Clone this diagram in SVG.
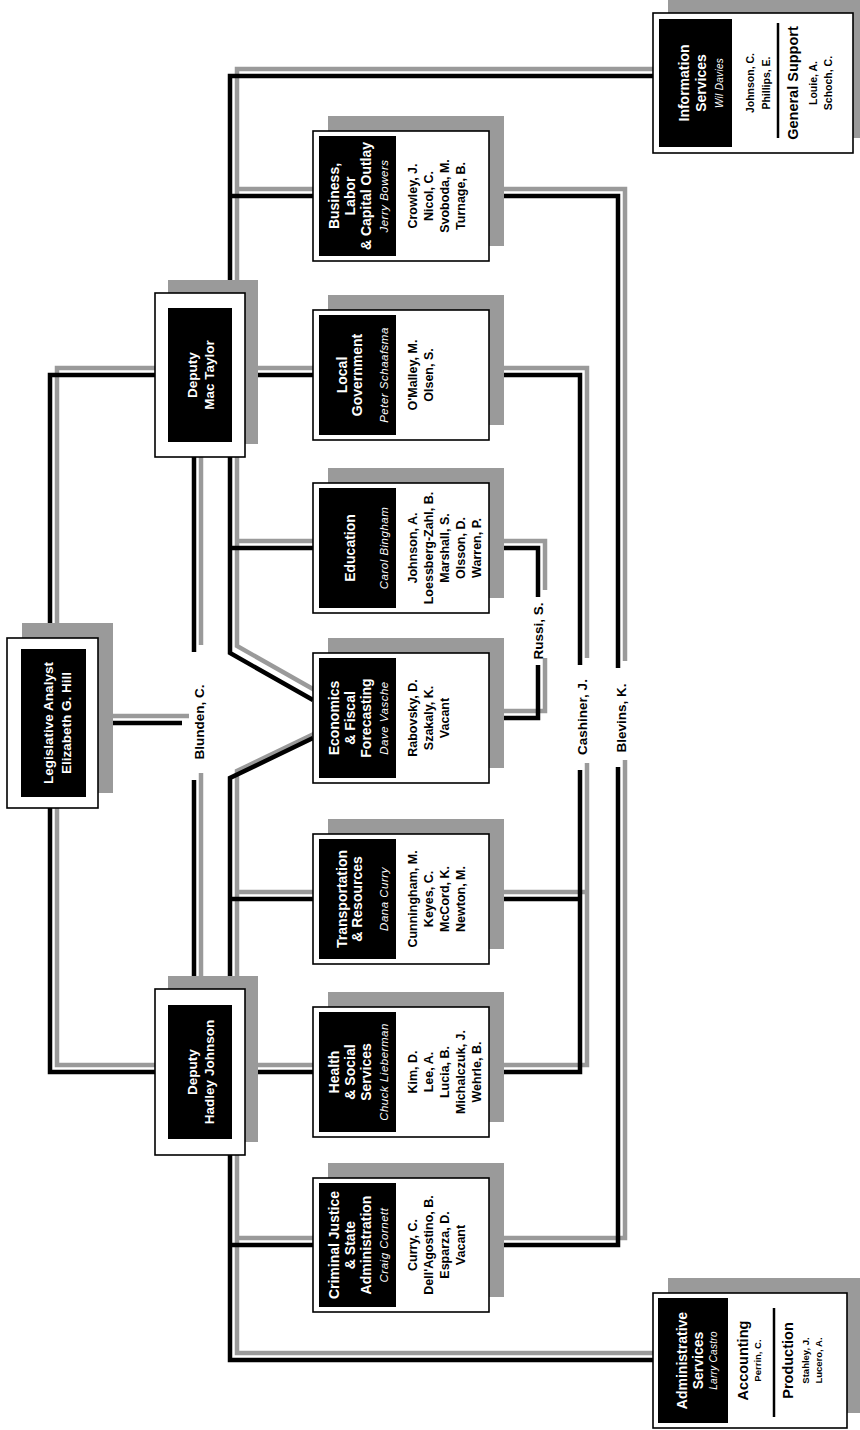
<svg xmlns="http://www.w3.org/2000/svg" width="860" height="1430" viewBox="0 0 860 1430">
<style>
.ln{fill:none;stroke:#000;stroke-width:4.5;stroke-linejoin:miter}
.sh{fill:none;stroke:#9a9a9a;stroke-width:4.5;stroke-linejoin:miter}
.box{fill:#fff;stroke:#000;stroke-width:1.6}
.bsh{fill:#9a9a9a}
.hd{fill:#000}
.t{font-family:"Liberation Sans",Arial,sans-serif;font-weight:bold;text-anchor:middle}
.w{fill:#fff;font-size:14px}
.dp{fill:#fff;font-size:13.5px}
.d{font-family:"Liberation Sans",Arial,sans-serif;font-style:italic;fill:#fff;font-size:11.5px;text-anchor:middle;letter-spacing:0.5px}
.ds{font-size:10px;letter-spacing:0.3px}
.n{font-size:12.5px;fill:#000}
.lbl{font-size:13.5px;fill:#000}
.big{font-size:14.5px;fill:#000}
.sm{font-size:10.5px;fill:#000}
.xs{font-size:9.5px;fill:#000}
.rule{stroke:#000;stroke-width:2.5}
</style>
<rect width="860" height="1430" fill="#fff"/>
<g transform="translate(0,1430) rotate(-90)">
<g id="connectors">
<g transform="translate(7,7)">
<path class="sh" d="M1354 653 L1354 230 L777 230 L730 313"/>
<path class="sh" d="M692 313 L652 230 L70 230 L70 653"/>
<path class="sh" d="M1234 230 L1234 313 M882 230 L882 313 M531 230 L531 313 M185 230 L185 313"/>
<path class="sh" d="M1055 245 L1055 313 M358 245 L358 313"/>
<path class="sh" d="M1055 155 L1055 50 L358 50 L358 155"/>
<path class="sh" d="M707 98 L707 182"/>
<path class="sh" d="M973 194 L778 194 M650 194 L441 194"/>
<path class="sh" d="M882 489 L882 538 L833 538 M765 538 L712 538 L712 489"/>
<path class="sh" d="M1055 489 L1055 580 L765 580 M660 580 L358 580 L358 489 M531 580 L531 489"/>
<path class="sh" d="M1234 489 L1234 618 L762 618 M663 618 L185 618 L185 489"/>
</g>
<path class="ln" d="M1354 653 L1354 230 L777 230 L730 313"/>
<path class="ln" d="M692 313 L652 230 L70 230 L70 653"/>
<path class="ln" d="M1234 230 L1234 313 M882 230 L882 313 M531 230 L531 313 M185 230 L185 313"/>
<path class="ln" d="M1055 245 L1055 313 M358 245 L358 313"/>
<path class="ln" d="M1055 155 L1055 50 L358 50 L358 155"/>
<path class="ln" d="M707 98 L707 182"/>
<path class="ln" d="M973 194 L778 194 M650 194 L441 194"/>
<path class="ln" d="M882 489 L882 538 L833 538 M765 538 L712 538 L712 489"/>
<path class="ln" d="M1055 489 L1055 580 L765 580 M660 580 L358 580 L358 489 M531 580 L531 489"/>
<path class="ln" d="M1234 489 L1234 618 L762 618 M663 618 L185 618 L185 489"/>
</g>

<g id="blunden"><text class="t lbl" x="708" y="204">Blunden, C.</text></g>
<g id="russi"><text class="t lbl" x="799" y="543">Russi, S.</text></g>
<g id="cashiner"><text class="t lbl" x="713" y="587">Cashiner, J.</text></g>
<g id="blevins"><text class="t lbl" x="712" y="626">Blevins, K.</text></g>

<g id="legislative-analyst">
<rect class="bsh" x="637" y="22" width="170" height="91"/>
<rect class="box" x="622" y="7" width="170" height="91"/>
<rect class="hd" x="633" y="21" width="148" height="65"/>
<text class="t dp" x="707" y="52.5">Legislative Analyst</text>
<text class="t dp" x="707" y="71">Elizabeth G. Hill</text>
</g>

<g id="deputy-mac-taylor">
<rect class="bsh" x="986" y="168" width="164" height="90"/>
<rect class="box" x="973" y="155" width="164" height="90"/>
<rect class="hd" x="988" y="168" width="134" height="64"/>
<text class="t dp" x="1055" y="197">Deputy</text>
<text class="t dp" x="1055" y="214">Mac Taylor</text>
</g>

<g id="deputy-hadley-johnson">
<rect class="bsh" x="288" y="168" width="166" height="90"/>
<rect class="box" x="275" y="155" width="166" height="90"/>
<rect class="hd" x="291" y="168" width="134" height="64"/>
<text class="t dp" x="358" y="197">Deputy</text>
<text class="t dp" x="358" y="214">Hadley Johnson</text>
</g>

<g id="business-labor">
<rect class="bsh" x="1184" y="328" width="130" height="176"/>
<rect class="box" x="1169" y="313" width="130" height="176"/>
<rect class="hd" x="1174" y="319" width="120" height="77"/>
<text class="t w" x="1234" y="339">Business,</text>
<text class="t w" x="1234" y="355">Labor</text>
<text class="t w" x="1234" y="371">&amp; Capital Outlay</text>
<text class="d" x="1234" y="388">Jerry Bowers</text>
<text class="t n" x="1234" y="416.5">Crowley, J.</text>
<text class="t n" x="1234" y="432.5">Nicol, C.</text>
<text class="t n" x="1234" y="448.5">Svoboda, M.</text>
<text class="t n" x="1234" y="464.5">Turnage, B.</text>
</g>

<g id="local-government">
<rect class="bsh" x="1005" y="328" width="130" height="176"/>
<rect class="box" x="990" y="313" width="130" height="176"/>
<rect class="hd" x="995" y="319" width="120" height="77"/>
<text class="t w" x="1055" y="347">Local</text>
<text class="t w" x="1055" y="362">Government</text>
<text class="d" x="1055" y="388">Peter Schaafsma</text>
<text class="t n" x="1055" y="416.5">O'Malley, M.</text>
<text class="t n" x="1055" y="432.5">Olsen, S.</text>
</g>

<g id="education">
<rect class="bsh" x="832" y="328" width="130" height="176"/>
<rect class="box" x="817" y="313" width="130" height="176"/>
<rect class="hd" x="822" y="319" width="120" height="77"/>
<text class="t w" x="882" y="355">Education</text>
<text class="d" x="882" y="388">Carol Bingham</text>
<text class="t n" x="882" y="416.5">Johnson, A.</text>
<text class="t n" x="882" y="432.5">Loessberg-Zahl, B.</text>
<text class="t n" x="882" y="448.5">Marshall, S.</text>
<text class="t n" x="882" y="464.5">Olsson, D.</text>
<text class="t n" x="882" y="480.5">Warren, P.</text>
</g>

<g id="economics">
<rect class="bsh" x="662" y="328" width="130" height="176"/>
<rect class="box" x="647" y="313" width="130" height="176"/>
<rect class="hd" x="652" y="319" width="120" height="77"/>
<text class="t w" x="712" y="339">Economics</text>
<text class="t w" x="712" y="355">&amp; Fiscal</text>
<text class="t w" x="712" y="371">Forecasting</text>
<text class="d" x="712" y="388">Dave Vasche</text>
<text class="t n" x="712" y="416.5">Rabovsky, D.</text>
<text class="t n" x="712" y="432.5">Szakaly, K.</text>
<text class="t n" x="712" y="448.5">Vacant</text>
</g>

<g id="transportation">
<rect class="bsh" x="481" y="328" width="130" height="176"/>
<rect class="box" x="466" y="313" width="130" height="176"/>
<rect class="hd" x="471" y="319" width="120" height="77"/>
<text class="t w" x="531" y="347">Transportation</text>
<text class="t w" x="531" y="362">&amp; Resources</text>
<text class="d" x="531" y="388">Dana Curry</text>
<text class="t n" x="531" y="416.5">Cunningham, M.</text>
<text class="t n" x="531" y="432.5">Keyes, C.</text>
<text class="t n" x="531" y="448.5">McCord, K.</text>
<text class="t n" x="531" y="464.5">Newton, M.</text>
</g>

<g id="health">
<rect class="bsh" x="308" y="328" width="130" height="176"/>
<rect class="box" x="293" y="313" width="130" height="176"/>
<rect class="hd" x="298" y="319" width="120" height="77"/>
<text class="t w" x="358" y="339">Health</text>
<text class="t w" x="358" y="355">&amp; Social</text>
<text class="t w" x="358" y="371">Services</text>
<text class="d" x="358" y="388">Chuck Lieberman</text>
<text class="t n" x="358" y="416.5">Kim, D.</text>
<text class="t n" x="358" y="432.5">Lee, A.</text>
<text class="t n" x="358" y="448.5">Lucia, B.</text>
<text class="t n" x="358" y="464.5">Michalczuk, J.</text>
<text class="t n" x="358" y="480.5">Wehrle, B.</text>
</g>

<g id="criminal-justice">
<rect class="bsh" x="133" y="328" width="134" height="176"/>
<rect class="box" x="118" y="313" width="134" height="176"/>
<rect class="hd" x="123" y="319" width="124" height="77"/>
<text class="t w" x="185" y="339">Criminal Justice</text>
<text class="t w" x="185" y="355">&amp; State</text>
<text class="t w" x="185" y="371">Administration</text>
<text class="d" x="185" y="388">Craig Cornett</text>
<text class="t n" x="185" y="416.5">Curry, C.</text>
<text class="t n" x="185" y="432.5">Dell'Agostino, B.</text>
<text class="t n" x="185" y="448.5">Esparza, D.</text>
<text class="t n" x="185" y="464.5">Vacant</text>
</g>

<g id="information-services">
<rect class="bsh" x="1292" y="668" width="140" height="200"/>
<rect class="box" x="1277" y="653" width="140" height="200"/>
<rect class="hd" x="1283" y="659" width="128" height="73"/>
<text class="t w" x="1347" y="689">Information</text>
<text class="t w" x="1347" y="706">Services</text>
<text class="d ds" x="1347" y="722.5">Wil Davies</text>
<text class="t sm" x="1347" y="754">Johnson, C.</text>
<text class="t sm" x="1347" y="770">Phillips, E.</text>
<line class="rule" x1="1292" y1="778" x2="1407" y2="778"/>
<text class="t big" x="1347" y="798">General Support</text>
<text class="t sm" x="1347" y="817">Louie, A.</text>
<text class="t sm" x="1347" y="832">Schoch, C.</text>
</g>

<g id="administrative-services">
<rect class="bsh" x="17" y="668" width="135" height="194"/>
<rect class="box" x="2" y="653" width="135" height="194"/>
<rect class="hd" x="7" y="658" width="125" height="70"/>
<text class="t w" x="69.5" y="687">Administrative</text>
<text class="t w" x="69.5" y="703">Services</text>
<text class="d ds" x="69.5" y="716.5">Larry Castro</text>
<text class="t big" x="69.5" y="748">Accounting</text>
<text class="t xs" x="69.5" y="761">Perrin, C.</text>
<line class="rule" x1="13" y1="774" x2="122" y2="774"/>
<text class="t big" x="69.5" y="793">Production</text>
<text class="t xs" x="69.5" y="808.5">Stahley, J.</text>
<text class="t xs" x="69.5" y="821.5">Lucero, A.</text>
</g>
</g>
</svg>
